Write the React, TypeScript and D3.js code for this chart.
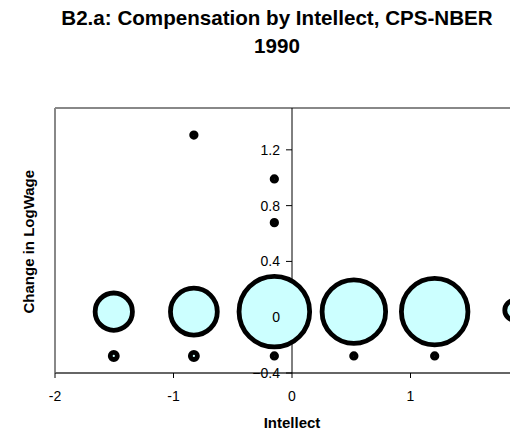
import React from "react";
import * as d3 from "d3";

const titleLines = ["B2.a: Compensation by Intellect, CPS-NBER", "1990"];
const xLabel = "Intellect";
const yLabel = "Change in LogWage";

// bubble series: x (intellect), y (change in log wage), size (relative weight)
const bubbleX = [-1.504, -0.828, -0.149, 0.522, 1.204, 1.88, -1.504, -0.828, -0.149, 0.522, 1.204, -0.828, -0.149, -0.149];
const bubbleY = [0.04, 0.04, 0.04, 0.04, 0.04, 0.05, -0.278, -0.278, -0.278, -0.278, -0.278, 1.306, 0.991, 0.678];
const bubbleSize = [27.9, 44.0, 100, 81, 88.8, 8.0, 1.0, 1.0, 0.4, 0.4, 0.4, 0.4, 0.4, 0.4];

const xTicks = [-2, -1, 0, 1];
const yTicks = [-0.4, 0, 0.4, 0.8, 1.2];
const xDomain = [-2, 2];
const yDomain = [-0.4, 1.5];

const W = 510;
const H = 435;
const FONT = "'Liberation Sans', Arial, Helvetica, sans-serif";

export default function App() {
  const left = 55, right = 529, top = 108, bottom = 373;
  const x = d3.scaleLinear().domain(xDomain).range([left, right]);
  const y = d3.scaleLinear().domain(yDomain).range([bottom, top]);
  const r = d3.scaleSqrt().domain([0, 100]).range([0, 35.3]);
  const x0 = x(0);

  const pts = bubbleX.map((bx, i) => ({ x: bx, y: bubbleY[i], s: bubbleSize[i] }));
  const ordered = [...pts].sort((a, b) => b.s - a.s);

  const fmtY = (v: number) => (v === 0 ? "0" : d3.format(".1f")(v));

  return (
    <svg
      width={W}
      height={H}
      style={{ position: "absolute", left: 0, top: 0, background: "#fff" }}
      fontFamily={FONT}
    >
      <rect x={0} y={0} width={W} height={H} fill="#fff" />
      {titleLines.map((t, i) => (
        <text
          key={i}
          x={277}
          y={25 + i * 28}
          textAnchor="middle"
          fontSize={20.6}
          fontWeight="bold"
          fill="#000"
        >
          {t}
        </text>
      ))}

      {/* plot area border */}
      <line x1={left} x2={left} y1={top} y2={bottom} stroke="#888" strokeWidth={2} />
      <line x1={left} x2={right} y1={top} y2={top} stroke="#888" strokeWidth={2} />
      <line x1={right} x2={right} y1={top} y2={bottom} stroke="#888" strokeWidth={2} />

      {/* x axis */}
      <line x1={left} x2={right} y1={bottom} y2={bottom} stroke="#666" strokeWidth={2} />
      {xTicks.map((t) => (
        <line key={"xt" + t} x1={x(t)} x2={x(t)} y1={bottom} y2={bottom + 5} stroke="#000" strokeWidth={1} />
      ))}
      {xTicks.map((t) => (
        <text key={"xl" + t} x={x(t)} y={400.5} textAnchor="middle" fontSize={14} fill="#000">
          {t}
        </text>
      ))}

      {/* y axis line & ticks */}
      <line x1={x0} x2={x0} y1={top} y2={bottom} stroke="#000" strokeWidth={1} />
      {yTicks.map((t) => (
        <line key={"yt" + t} x1={x0 - 6} x2={x0} y1={y(t)} y2={y(t)} stroke="#000" strokeWidth={1} />
      ))}

      {/* bubbles */}
      {ordered.map((p, i) => (
        <circle
          key={i}
          cx={x(p.x)}
          cy={y(p.y)}
          r={r(p.s)}
          fill="#CCFFFF"
          stroke="#000"
          strokeWidth={4.8}
        />
      ))}

      {/* y tick labels on top */}
      {yTicks.map((t) => (
        <text key={"yl" + t} x={x0 - 12} y={y(t)} dy="0.35em" textAnchor="end" fontSize={14} fill="#000">
          {fmtY(t)}
        </text>
      ))}

      <text x={292} y={428.3} textAnchor="middle" fontSize={15} fontWeight="bold" fill="#000">
        {xLabel}
      </text>
      <text
        transform={`translate(34, 241.7) rotate(-90)`}
        textAnchor="middle"
        fontSize={15}
        fontWeight="bold"
        fill="#000"
      >
        {yLabel}
      </text>
    </svg>
  );
}
